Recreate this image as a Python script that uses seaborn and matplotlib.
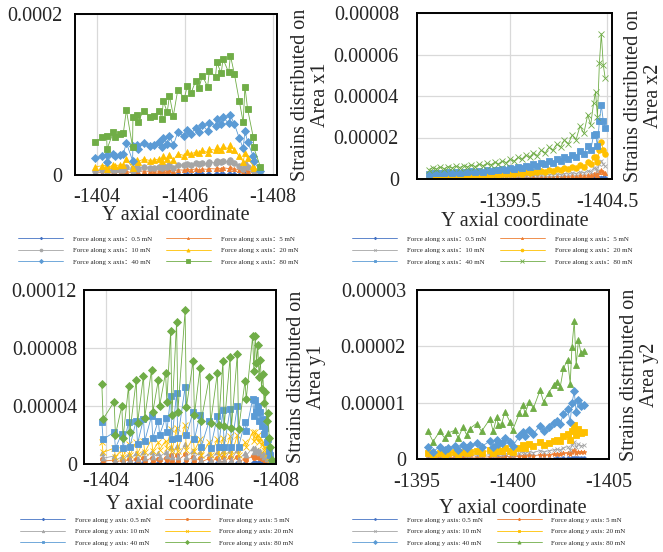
import numpy as np
import pandas as pd
import seaborn as sns
import matplotlib
matplotlib.use("Agg")
import matplotlib.pyplot as plt

# strains are typed in units of 1e-6, multiplied when drawn

# ---------------- panel a: Area x1 ----------------
x1 = [-1403.96, -1404.11, -1404.22, -1404.23, -1404.37, -1404.41, -1404.52, -1404.60, -1404.67,
      -1404.81, -1404.82, -1404.91, -1404.93, -1405.06, -1405.20, -1405.29, -1405.42, -1405.48,
      -1405.51, -1405.60, -1405.65, -1405.74, -1405.84, -1405.99, -1406.06, -1406.14, -1406.25,
      -1406.32, -1406.40, -1406.52, -1406.56, -1406.70, -1406.73, -1406.83, -1406.87, -1407.00,
      -1407.04, -1407.13, -1407.24, -1407.33, -1407.37, -1407.43, -1407.56, -1407.57, -1407.72]
a1_80 = [40.6, 46.8, 48.9, 32.3, 53.0, 46.8, 50.9, 51.8, 80.7, 35.2, 72.5, 74.9, 65.4, 79.9, 72.5,
         73.7, 79.9, 69.6, 92.3, 77.8, 98.5, 73.7, 105.6, 95.6, 111.0, 101.4, 117.2, 107.6, 123.4,
         109.7, 129.6, 122.1, 139.9, 126.3, 144.1, 127.5, 148.2, 125.4, 92.3, 65.4, 109.7, 82.0,
         46.8, 34.4, 10.4]
a1_40 = [20.5, 23.0, 24.5, 16.0, 26.5, 23.5, 25.0, 26.0, 40.0, 18.0, 36.0, 37.5, 32.5, 40.0, 36.5,
         37.0, 40.5, 35.0, 46.0, 39.0, 49.0, 37.0, 53.0, 48.0, 55.5, 51.0, 58.5, 54.0, 62.0, 55.0,
         65.0, 61.0, 70.0, 63.0, 72.0, 64.0, 74.0, 63.0, 46.0, 33.0, 55.0, 41.0, 23.5, 17.0, 5.0]
a1_20 = [10.0, 11.5, 12.0, 8.0, 13.0, 11.5, 12.5, 13.0, 20.0, 9.0, 18.0, 18.5, 16.0, 20.0, 18.0,
         18.5, 20.0, 17.5, 23.0, 19.5, 24.5, 18.5, 26.5, 24.0, 28.0, 25.5, 29.0, 27.0, 31.0, 27.5,
         32.5, 30.5, 35.0, 31.5, 36.0, 32.0, 37.0, 31.5, 23.0, 16.5, 27.5, 20.5, 11.5, 8.5, 2.5]
a1_10 = [5.0, 6.0, 6.0, 4.0, 6.5, 6.0, 6.5, 6.5, 10.0, 4.5, 9.0, 9.5, 8.0, 10.0, 9.0, 9.0, 10.0,
         8.5, 11.5, 9.5, 12.5, 9.0, 13.0, 12.0, 14.0, 12.5, 14.5, 13.5, 15.5, 13.5, 16.0, 15.5,
         17.5, 16.0, 18.0, 16.0, 18.5, 15.5, 11.5, 8.0, 13.5, 10.0, 6.0, 4.5, 1.5]
a1_5 = [2.5, 3.0, 3.0, 2.0, 3.5, 3.0, 3.0, 3.0, 5.0, 2.0, 4.5, 4.5, 4.0, 5.0, 4.5, 4.5, 5.0, 4.5,
        6.0, 5.0, 6.0, 4.5, 6.5, 6.0, 7.0, 6.5, 7.5, 6.5, 7.5, 7.0, 8.0, 7.5, 8.5, 8.0, 9.0, 8.0,
        9.5, 8.0, 6.0, 4.0, 7.0, 5.0, 3.0, 2.0, 0.5]
a1_05 = [0.3, 0.3, 0.3, 0.2, 0.3, 0.3, 0.3, 0.3, 0.5, 0.2, 0.5, 0.5, 0.4, 0.5, 0.5, 0.5, 0.5, 0.4,
         0.6, 0.5, 0.6, 0.5, 0.7, 0.6, 0.7, 0.6, 0.7, 0.7, 0.8, 0.7, 0.8, 0.8, 0.9, 0.8, 0.9, 0.8,
         0.9, 0.8, 0.6, 0.4, 0.7, 0.5, 0.3, 0.2, 0.1]

# ---------------- panel b: Area x2 ----------------
x2 = [-1395.3, -1395.5, -1395.7, -1395.9, -1396.1, -1396.3, -1396.5, -1396.7, -1396.9, -1397.1,
      -1397.3, -1397.5, -1397.7, -1397.9, -1398.1, -1398.3, -1398.5, -1398.7, -1398.9, -1399.1,
      -1399.3, -1399.5, -1399.7, -1399.9, -1400.1, -1400.3, -1400.5, -1400.7, -1400.9, -1401.1,
      -1401.3, -1401.5, -1401.7, -1401.9, -1402.1, -1402.3, -1402.5, -1402.7, -1402.9, -1403.1,
      -1403.3, -1403.5, -1403.65, -1403.8, -1403.9, -1404.0, -1404.1, -1404.2, -1404.3, -1404.4]
b_80 = [4.5, 5.5, 4.8, 5.8, 5.0, 6.0, 5.3, 6.2, 5.5, 6.5, 5.8, 6.8, 6.0, 7.2, 6.4, 7.5, 6.8, 8.0,
        7.3, 8.6, 7.9, 9.5, 8.6, 10.4, 9.5, 11.5, 10.4, 12.6, 11.3, 13.8, 12.5, 15.2, 13.8, 16.8,
        15.4, 18.8, 17.0, 21.2, 19.0, 25.5, 22.0, 31.0, 26.0, 36.5, 42.0, 30.0, 56.0, 70.0, 55.0, 48.5]
b_40 = [2.5, 3.0, 2.7, 3.1, 2.8, 3.2, 3.0, 3.4, 3.1, 3.6, 3.3, 3.8, 3.4, 4.0, 3.6, 4.2, 3.8, 4.5,
        4.1, 4.8, 4.4, 5.3, 4.8, 5.8, 5.3, 6.4, 5.8, 7.0, 6.3, 7.7, 7.0, 8.5, 7.7, 9.4, 8.6, 10.5,
        9.5, 11.8, 10.6, 13.5, 12.0, 16.0, 14.0, 21.0, 21.5, 16.0, 28.0, 35.5, 28.0, 24.5]
b_20 = [1.2, 1.5, 1.3, 1.6, 1.4, 1.6, 1.5, 1.7, 1.6, 1.8, 1.6, 1.9, 1.7, 2.0, 1.8, 2.1, 1.9, 2.2,
        2.0, 2.4, 2.2, 2.6, 2.4, 2.9, 2.6, 3.2, 2.9, 3.5, 3.2, 3.9, 3.5, 4.3, 3.9, 4.7, 4.3, 5.3,
        4.8, 5.9, 5.3, 6.8, 6.0, 8.0, 7.0, 10.5, 10.8, 8.0, 14.0, 17.8, 14.0, 12.2]
b_10 = [0.6, 0.7, 0.65, 0.8, 0.7, 0.8, 0.75, 0.85, 0.8, 0.9, 0.8, 0.95, 0.85, 1.0, 0.9, 1.05, 0.95,
        1.1, 1.0, 1.2, 1.1, 1.3, 1.2, 1.45, 1.3, 1.6, 1.45, 1.75, 1.6, 1.95, 1.75, 2.15, 1.95, 2.35,
        2.15, 2.65, 2.4, 2.95, 2.65, 3.4, 3.0, 4.0, 3.5, 5.2, 5.4, 4.0, 7.0, 8.9, 7.0, 6.1]
b_5 = [0.3, 0.35, 0.3, 0.4, 0.35, 0.4, 0.4, 0.4, 0.4, 0.45, 0.4, 0.5, 0.45, 0.5, 0.45, 0.5, 0.5,
       0.55, 0.5, 0.6, 0.55, 0.65, 0.6, 0.7, 0.65, 0.8, 0.7, 0.9, 0.8, 1.0, 0.9, 1.1, 1.0, 1.2, 1.1,
       1.3, 1.2, 1.5, 1.3, 1.7, 1.5, 2.0, 1.8, 2.6, 2.7, 2.0, 3.5, 4.4, 3.5, 3.0]
b_05 = [0.03, 0.03, 0.03, 0.04, 0.03, 0.04, 0.03, 0.04, 0.04, 0.04, 0.04, 0.05, 0.04, 0.05, 0.04,
        0.05, 0.05, 0.05, 0.05, 0.06, 0.05, 0.06, 0.06, 0.07, 0.06, 0.08, 0.07, 0.09, 0.08, 0.1,
        0.09, 0.11, 0.1, 0.12, 0.11, 0.13, 0.12, 0.15, 0.13, 0.17, 0.15, 0.2, 0.18, 0.26, 0.27, 0.2,
        0.35, 0.44, 0.35, 0.3]

# ---------------- panel c: Area y1 ----------------
x3 = [-1403.90, -1403.93, -1404.19, -1404.22, -1404.37, -1404.40, -1404.53, -1404.56, -1404.71,
      -1404.74, -1404.88, -1404.91, -1405.07, -1405.10, -1405.23, -1405.26, -1405.40, -1405.43,
      -1405.52, -1405.55, -1405.66, -1405.69, -1405.86, -1405.89, -1406.05, -1406.08, -1406.21,
      -1406.24, -1406.43, -1406.46, -1406.62, -1406.65, -1406.75, -1406.78, -1406.92, -1406.95,
      -1407.09, -1407.12, -1407.27, -1407.30,
      -1407.45, -1407.48, -1407.51, -1407.54, -1407.57, -1407.60, -1407.63, -1407.66, -1407.69,
      -1407.72, -1407.75, -1407.78, -1407.81, -1407.84, -1407.87, -1407.90]
c_80 = [55, 31, 43, 20, 40, 18, 54, 22, 58, 28, 61, 32, 65, 36, 58, 40, 63, 43, 92, 34, 98, 36,
        106, 39, 71, 34, 66, 30, 60, 28, 63, 27, 71, 26, 74, 25, 76, 24, 57, 45,
        88, 64, 88, 70, 82, 60, 72, 52, 62, 42, 50, 30, 35, 18, 12, 3]
c_40 = [29, 17, 22, 11, 21, 11, 29, 12, 30, 14, 31, 16, 33, 18, 30, 20, 32, 22, 47, 17, 49, 18,
        53, 20, 36, 17, 34, 12, 30, 11, 33, 12, 37, 12, 38, 12, 40, 12, 29, 23,
        45, 33, 44, 36, 40, 30, 36, 26, 31, 21, 25, 15, 17, 9, 6, 1.5]
c_20 = [15, 8, 11, 5, 10, 5, 14, 6, 15, 7, 16, 8, 17, 9, 15, 10, 16, 11, 24, 9, 25, 9, 27, 10, 18,
        9, 17, 6, 15, 6, 17, 6, 18, 6, 19, 6, 20, 6, 15, 12,
        22, 16, 22, 18, 20, 15, 18, 13, 15, 10, 12, 7, 8, 4.5, 3, 0.8]
c_10 = [7.5, 4, 5.5, 2.5, 5, 2.3, 7, 3, 7.5, 3.5, 8, 4, 8.5, 4.5, 7.5, 5, 8, 5.5, 12, 4.5, 12.5,
        4.5, 13.5, 5, 9, 4.5, 8.5, 3, 7.5, 3, 8.5, 3, 9, 3, 9.5, 3, 10, 3, 7.5, 6,
        11, 8, 11, 9, 10, 7.5, 9, 6.5, 7.5, 5, 6, 3.5, 4, 2.2, 1.5, 0.4]
c_5 = [3.5, 2, 2.7, 1.3, 2.5, 1.2, 3.5, 1.5, 3.7, 1.8, 4, 2, 4.2, 2.3, 3.7, 2.5, 4, 2.7, 6, 2.2,
       6.2, 2.3, 6.7, 2.5, 4.5, 2.2, 4.2, 1.5, 3.8, 1.5, 4.2, 1.5, 4.5, 1.5, 4.8, 1.5, 5, 1.5, 3.7, 3,
       5.5, 4, 5.5, 4.5, 5, 3.8, 4.5, 3.2, 3.8, 2.6, 3, 1.8, 2, 1.1, 0.8, 0.2]
c_05 = [0.35, 0.2, 0.27, 0.13, 0.25, 0.12, 0.35, 0.15, 0.37, 0.18, 0.4, 0.2, 0.42, 0.23, 0.37,
        0.25, 0.4, 0.27, 0.6, 0.22, 0.62, 0.23, 0.67, 0.25, 0.45, 0.22, 0.42, 0.15, 0.38, 0.15,
        0.42, 0.15, 0.45, 0.15, 0.48, 0.15, 0.5, 0.15, 0.37, 0.3,
        0.55, 0.4, 0.55, 0.45, 0.5, 0.38, 0.45, 0.32, 0.38, 0.26, 0.3, 0.18, 0.2, 0.11, 0.08, 0.02]

# ---------------- panel d: Area y2 ----------------
x4 = [-1395.57, -1395.84, -1396.18, -1396.45, -1396.62, -1396.97, -1397.14, -1397.40, -1397.58,
      -1397.75, -1398.10, -1398.36, -1398.80, -1398.97, -1399.15, -1399.23, -1399.41, -1399.58,
      -1399.84, -1399.98, -1400.33, -1400.51, -1400.63, -1400.85, -1401.06, -1401.41, -1401.59,
      -1401.85, -1402.11, -1402.28, -1402.46, -1402.63, -1402.84, -1402.98, -1403.07, -1403.19,
      -1403.29, -1403.41, -1403.54, -1403.68]
d_80 = [4.9, 3.1, 4.9, 3.7, 4.6, 5.1, 3.7, 5.7, 4.3, 5.4, 6.3, 4.9, 7.1, 4.9, 7.5, 6.0, 6.3, 8.4,
        6.6, 5.1, 8.1, 9.6, 8.1, 10.2, 9.0, 12.2, 10.2, 11.7, 13.1, 13.7, 12.8, 16.1, 17.6, 13.4,
        19.9, 24.5, 16.7, 21.1, 18.8, 19.1]
d_40 = [2.1, 1.3, 2.2, 1.6, 2.0, 2.3, 1.6, 2.5, 1.9, 2.4, 2.8, 2.2, 3.2, 2.2, 3.4, 2.7, 2.8, 3.8,
        3.0, 2.3, 4.0, 4.8, 4.0, 5.1, 4.5, 5.9, 5.0, 5.7, 6.4, 6.8, 6.3, 8.0, 8.8, 6.6, 9.9, 12.0,
        8.3, 10.5, 9.4, 9.5]
d_20 = [1.0, 0.7, 1.1, 0.8, 1.0, 1.2, 0.8, 1.3, 1.0, 1.2, 1.4, 1.1, 1.6, 1.1, 1.7, 1.4, 1.4, 1.9,
        1.5, 1.2, 2.0, 2.4, 2.0, 2.6, 2.3, 3.0, 2.5, 2.9, 3.2, 3.4, 3.2, 4.0, 4.4, 3.3, 5.0, 6.1,
        4.2, 5.3, 4.7, 4.8]
d_10 = [0.5, 0.35, 0.55, 0.4, 0.5, 0.6, 0.4, 0.65, 0.5, 0.6, 0.7, 0.55, 0.8, 0.55, 0.85, 0.7, 0.7,
        0.95, 0.75, 0.6, 1.0, 1.2, 1.0, 1.3, 1.15, 1.5, 1.25, 1.45, 1.6, 1.7, 1.6, 2.0, 2.2, 1.65,
        2.5, 3.05, 2.1, 2.65, 2.35, 2.4]
d_5 = [0.25, 0.18, 0.28, 0.2, 0.25, 0.3, 0.2, 0.33, 0.25, 0.3, 0.35, 0.28, 0.4, 0.28, 0.43, 0.35,
       0.35, 0.48, 0.38, 0.3, 0.5, 0.6, 0.5, 0.65, 0.58, 0.75, 0.63, 0.73, 0.8, 0.85, 0.8, 1.0,
       1.1, 0.83, 1.25, 1.53, 1.05, 1.33, 1.18, 1.2]
d_05 = [0.03, 0.02, 0.03, 0.02, 0.03, 0.03, 0.02, 0.04, 0.03, 0.03, 0.04, 0.03, 0.04, 0.03, 0.05,
        0.04, 0.04, 0.05, 0.04, 0.03, 0.05, 0.06, 0.05, 0.06, 0.06, 0.08, 0.06, 0.07, 0.08, 0.09,
        0.08, 0.1, 0.11, 0.08, 0.12, 0.15, 0.1, 0.13, 0.12, 0.12]

forces = ["0.5 mN", "5 mN", "10 mN", "20 mN", "40 mN", "80 mN"]
colors = ["#4472C4", "#ED7D31", "#A5A5A5", "#FFC000", "#5B9BD5", "#70AD47"]

xt1, xtl1 = [-1404, -1406, -1408], ["-1404", "-1406", "-1408"]
yt1, ytl1 = [0, 0.0002], ["0", "0.0002"]
xt2, xtl2 = [-1399.5, -1404.5], ["-1399.5", "-1404.5"]
yt2, ytl2 = [0, 2e-5, 4e-5, 6e-5, 8e-5], ["0", "0.00002", "0.00004", "0.00006", "0.00008"]
xt3, xtl3 = [-1404, -1406, -1408], ["-1404", "-1406", "-1408"]
yt3, ytl3 = [0, 4e-5, 8e-5, 12e-5], ["0", "0.00004", "0.00008", "0.00012"]
xt4, xtl4 = [-1395, -1400, -1405], ["-1395", "-1400", "-1405"]
yt4, ytl4 = [0, 1e-5, 2e-5, 3e-5], ["0", "0.00001", "0.00002", "0.00003"]

sns.set_theme(style="white")
plt.rcParams['font.family'] = ['Liberation Serif', 'Noto Sans CJK SC', 'DejaVu Sans']
FS = 14.5

fig = plt.figure(figsize=(6.63, 5.52), dpi=100)
W, H = 663.0, 552.0


def panel(rect, x, ys, markers, msizes, prefix, sep, xlim, xt, xtl, ylim, yt, ytl,
          ylab, ypad, xpad, xlabpad, ylabpad, leg_xy):
    l, t, r, b = rect
    ax = fig.add_axes([l / W, 1 - b / H, (r - l) / W, (b - t) / H])
    for i in range(6):
        sns.lineplot(x=x, y=np.array(ys[i]) * 1e-6, ax=ax, sort=False, estimator=None,
                     color=colors[i], linewidth=0.6, marker=markers[i], markersize=msizes[i],
                     markeredgewidth=0.6, markeredgecolor=colors[i],
                     label=prefix + sep + forces[i])
    ax.set_xlim(*xlim)
    ax.set_ylim(*ylim)
    ax.set_xticks(xt)
    ax.set_xticklabels(xtl, fontsize=FS)
    ax.set_yticks(yt)
    ax.set_yticklabels(ytl, fontsize=FS)
    ax.tick_params(axis='x', length=0, pad=xpad)
    ax.tick_params(axis='y', length=3, direction='in', pad=ypad, color='black')
    ax.grid(True, color='#d9d9d9', linewidth=0.9)
    ax.set_axisbelow(True)
    for s in ax.spines.values():
        s.set_color('black')
        s.set_linewidth(1.4)
    ax.set_xlabel("Y axial coordinate", fontsize=FS, labelpad=xlabpad)
    ax.yaxis.set_label_position("right")
    ax.set_ylabel(ylab, fontsize=FS, labelpad=ylabpad, linespacing=1.05)
    h, lb = ax.get_legend_handles_labels()
    order = [0, 2, 4, 1, 3, 5]
    ax.legend([h[k] for k in order], [lb[k] for k in order], ncol=2, loc='upper left',
              bbox_to_anchor=(leg_xy[0] / W, 1 - leg_xy[1] / H), bbox_transform=fig.transFigure,
              frameon=False, fontsize=5, handlelength=6.5, handletextpad=1.4,
              columnspacing=2.0, labelspacing=0.8, borderpad=0, borderaxespad=0,
              markerscale=0.5)
    return ax


pre_x = "Force along x axis"
pre_y = "Force along y axis"

panel((75, 14, 277, 175), x1, [a1_05, a1_5, a1_10, a1_20, a1_40, a1_80],
      ['D', '^', 'o', '^', 'D', 's'], [2.5, 3, 4, 4.5, 4.2, 4.8], pre_x, "：",
      (-1403.5, -1408.1), xt1, xtl1, (0, 0.0002), yt1, ytl1,
      "Strains distributed on\nArea x1", 9, 9, 0, 10, (18, 236))

panel((417, 13, 612, 179), x2, [b_05, b_5, b_10, b_20, b_40, b_80],
      ['D', '^', 'x', 'o', 's', 'x'], [2.5, 3, 3.5, 4, 4.2, 4.5], pre_x, "：",
      (-1394.7, -1404.75), xt2, xtl2, (0, 8e-5), yt2, ytl2,
      "Strains distributed on\nArea x2", 13, 10, 0, 9, (352, 236))

panel((84, 290, 276, 464), x3, [c_05, c_5, c_10, c_20, c_40, c_80],
      ['D', 'o', '^', 'x', 's', 'D'], [2.5, 3, 3.5, 4, 4.2, 4], pre_y, ": ",
      (-1403.48, -1408.0), xt3, xtl3, (0, 12e-5), yt3, ytl3,
      "Strains distributed on\nArea y1", 5, 6, 3, 8, (20, 517))

panel((417, 290, 609, 459), x4, [d_05, d_5, d_10, d_20, d_40, d_80],
      ['o', '*', 'x', 's', 'D', '^'], [2.5, 3.5, 3.5, 4, 4, 4.5], pre_y, ": ",
      (-1395, -1405), xt4, xtl4, (0, 3e-5), yt4, ytl4,
      "Strains distributed on\nArea y2", 8, 10, 5, 8, (352, 517))

fig.savefig("out.png", dpi=100)
